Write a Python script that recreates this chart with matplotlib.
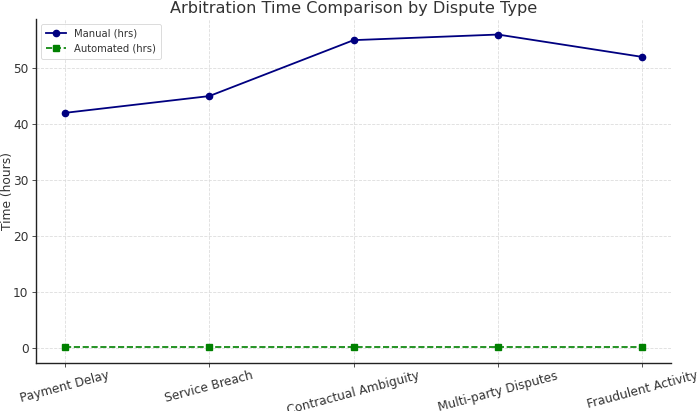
import matplotlib.pyplot as plt

# dispute categories and average arbitration time
dispute_types = ['Payment Delay', 'Service Breach', 'Contractual Ambiguity',
                 'Multi-party Disputes', 'Fraudulent Activity']
manual_hrs = [42, 45, 55, 56, 52]
automated_hrs = [0.1, 0.1, 0.1, 0.1, 0.1]

text_color = '#333333'

fig = plt.figure(figsize=(6.97, 4.11), dpi=100)
ax = fig.add_axes([0.0517, 0.117, 0.9113, 0.837])

ax.plot(dispute_types, manual_hrs, marker='o', linestyle='-', color='navy',
        markersize=4.5, linewidth=1.3, label='Manual (hrs)')
ax.plot(dispute_types, automated_hrs, marker='s', linestyle='--', color='green',
        markersize=4, linewidth=1.2, label='Automated (hrs)')

ax.set_title('Arbitration Time Comparison by Dispute Type', fontsize=11.6,
             color=text_color, pad=4)
ax.set_ylabel('Time (hours)', fontsize=8.8, color=text_color)
ax.yaxis.set_label_coords(-0.034, 0.5)
ax.tick_params(axis='x', labelrotation=15, labelsize=8.7, colors=text_color,
               length=3, width=0.6, pad=1.5)
ax.tick_params(axis='y', labelsize=8.7, colors=text_color, length=3, width=0.6,
               pad=2.5)

ax.grid(True, linestyle='--', color='#dddddd', linewidth=0.6)
ax.set_axisbelow(True)
for side in ['top', 'right']:
    ax.spines[side].set_visible(False)
for side in ['left', 'bottom']:
    ax.spines[side].set_color('#222222')
    ax.spines[side].set_linewidth(1.0)

leg = ax.legend(loc='upper left', fontsize=7.2, frameon=True, edgecolor='#cccccc',
                labelcolor=text_color, borderpad=0.5)
leg.get_frame().set_linewidth(0.6)

fig.savefig('out.png', dpi=100)
